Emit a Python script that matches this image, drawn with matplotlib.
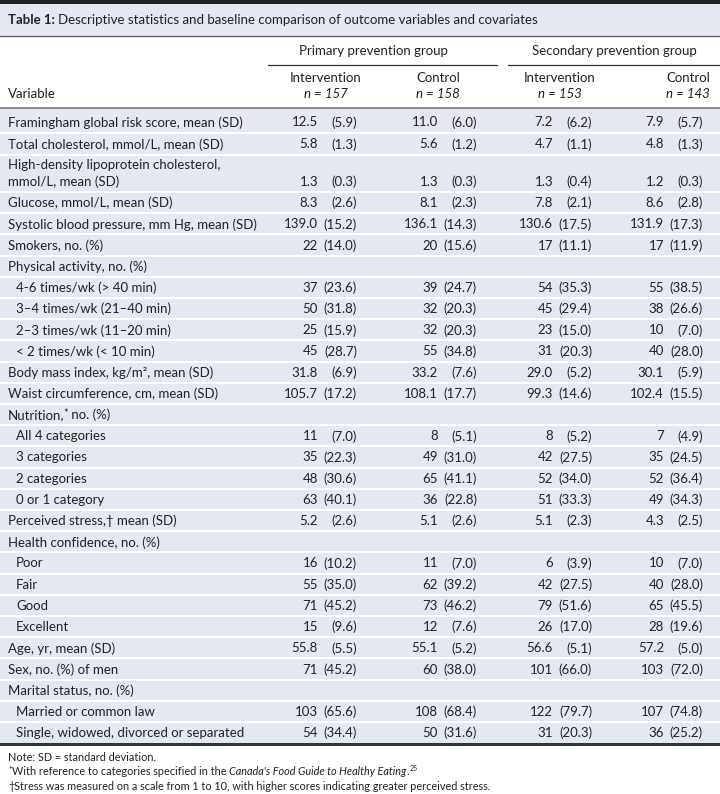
import matplotlib
matplotlib.use("Agg")
import matplotlib.pyplot as plt
from matplotlib.patches import Rectangle

plt.rcParams['font.family'] = ['Lato', 'DejaVu Sans']

title_bold = "Table 1:"
title_rest = "Descriptive statistics and baseline comparison of outcome variables and covariates"
group_labels = ["Primary prevention group", "Secondary prevention group"]
arm_labels = ["Intervention", "Control", "Intervention", "Control"]
arm_n = ["n = 157", "n = 158", "n = 153", "n = 143"]

labels = [
    "Framingham global risk score, mean (SD)",
    "Total cholesterol, mmol/L, mean (SD)",
    "High-density lipoprotein cholesterol,\nmmol/L, mean (SD)",
    "Glucose, mmol/L, mean (SD)",
    "Systolic blood pressure, mm Hg, mean (SD)",
    "Smokers, no. (%)",
    "Physical activity, no. (%)",
    "4-6 times/wk (> 40 min)",
    "3–4 times/wk (21–40 min)",
    "2–3 times/wk (11–20 min)",
    "< 2 times/wk (< 10 min)",
    "Body mass index, kg/m², mean (SD)",
    "Waist circumference, cm, mean (SD)",
    "Nutrition,* no. (%)",
    "All 4 categories",
    "3 categories",
    "2 categories",
    "0 or 1 category",
    "Perceived stress,† mean (SD)",
    "Health confidence, no. (%)",
    "Poor",
    "Fair",
    "Good",
    "Excellent",
    "Age, yr, mean (SD)",
    "Sex, no. (%) of men",
    "Marital status, no. (%)",
    "Married or common law",
    "Single, widowed, divorced or separated",
]
# m = mean (SD), n = count (%), h = heading only
kinds = ["m", "m", "m", "m", "m", "n", "h", "n", "n", "n", "n", "m", "m", "h",
         "n", "n", "n", "n", "m", "h", "n", "n", "n", "n", "m", "n", "h", "n", "n"]
indented = [False, False, False, False, False, False, False, True, True, True, True,
            False, False, False, True, True, True, True, False, False, True, True,
            True, True, False, False, False, True, True]

prim_int_val = [12.5, 5.8, 1.3, 8.3, 139.0, 22, None, 37, 50, 25, 45, 31.8, 105.7, None,
                11, 35, 48, 63, 5.2, None, 16, 55, 71, 15, 55.8, 71, None, 103, 54]
prim_int_sd = [5.9, 1.3, 0.3, 2.6, 15.2, 14.0, None, 23.6, 31.8, 15.9, 28.7, 6.9, 17.2, None,
               7.0, 22.3, 30.6, 40.1, 2.6, None, 10.2, 35.0, 45.2, 9.6, 5.5, 45.2, None, 65.6, 34.4]
prim_ctl_val = [11.0, 5.6, 1.3, 8.1, 136.1, 20, None, 39, 32, 32, 55, 33.2, 108.1, None,
                8, 49, 65, 36, 5.1, None, 11, 62, 73, 12, 55.1, 60, None, 108, 50]
prim_ctl_sd = [6.0, 1.2, 0.3, 2.3, 14.3, 15.6, None, 24.7, 20.3, 20.3, 34.8, 7.6, 17.7, None,
               5.1, 31.0, 41.1, 22.8, 2.6, None, 7.0, 39.2, 46.2, 7.6, 5.2, 38.0, None, 68.4, 31.6]
sec_int_val = [7.2, 4.7, 1.3, 7.8, 130.6, 17, None, 54, 45, 23, 31, 29.0, 99.3, None,
               8, 42, 52, 51, 5.1, None, 6, 42, 79, 26, 56.6, 101, None, 122, 31]
sec_int_sd = [6.2, 1.1, 0.4, 2.1, 17.5, 11.1, None, 35.3, 29.4, 15.0, 20.3, 5.2, 14.6, None,
              5.2, 27.5, 34.0, 33.3, 2.3, None, 3.9, 27.5, 51.6, 17.0, 5.1, 66.0, None, 79.7, 20.3]
sec_ctl_val = [7.9, 4.8, 1.2, 8.6, 131.9, 17, None, 55, 38, 10, 40, 30.1, 102.4, None,
               7, 35, 52, 49, 4.3, None, 10, 40, 65, 28, 57.2, 103, None, 107, 36]
sec_ctl_sd = [5.7, 1.3, 0.3, 2.8, 17.3, 11.9, None, 38.5, 26.6, 7.0, 28.0, 5.9, 15.5, None,
              4.9, 24.5, 36.4, 34.3, 2.5, None, 7.0, 28.0, 45.5, 19.6, 5.0, 72.0, None, 74.8, 25.2]

footnotes = [
    "Note: SD = standard deviation.",
    "With reference to categories specified in the",
    "Stress was measured on a scale from 1 to 10, with higher scores indicating greater perceived stress.",
]

# ---------------- layout ----------------
W, H = 720, 794
fig = plt.figure(figsize=(W / 100, H / 100), dpi=100)
ax = fig.add_axes([0, 0, 1, 1])
ax.set_xlim(0, W)
ax.set_ylim(H, 0)
ax.axis("off")
fig.canvas.draw()
renderer = fig.canvas.get_renderer()

TXT = "#222222"
BG = "#e4e8f1"
FS = 9.5

def rect(x0, y0, x1, y1, color):
    ax.add_patch(Rectangle((x0, y0), x1 - x0, y1 - y0, facecolor=color, edgecolor="none", lw=0))

def runs(x, y, pieces, fs, va="center"):
    for s, kw in pieces:
        kw = dict(kw)
        dy = kw.pop("dy", 0)
        size = kw.pop("size", fs)
        extra = kw.pop("gap", 0)
        t = ax.text(x, y + dy, s, fontsize=size, color=TXT, va=va, ha="left", **kw)
        x += t.get_window_extent(renderer).width + extra

# title band
rect(0, 0, W, 4, "#222222")
rect(0, 4, W, 36, BG)
ax.plot([0, W], [36, 36], color="#5a5a5a", lw=0.9)
runs(8, 20, [(title_bold, dict(fontweight="bold", gap=3.5)), (title_rest, dict())], FS)

# header
col_center = [326, 438, 560, 688]
grp_center = [373, 614]
grp_lines = [(268, 497), (508, W)]
for g in range(2):
    ax.text(grp_center[g], 51, group_labels[g], fontsize=FS, color=TXT, ha="center", va="center")
    ax.plot(grp_lines[g], [64.5, 64.5], color="#333333", lw=0.9)
for c in range(4):
    ax.text(col_center[c], 78, arm_labels[c], fontsize=FS, color=TXT, ha="center", va="center")
    ax.text(col_center[c], 94.5, arm_n[c], fontsize=FS, color=TXT, ha="center", va="center",
            fontstyle="italic")
ax.text(8, 94.5, "Variable", fontsize=FS, color=TXT, ha="left", va="center")
rect(0, 106.5, W, 109, "#8e8e8e")

# body rows
heights = [24, 22, 37] + [21.2] * (len(labels) - 3)
y = 109
bounds = []
for h in heights:
    bounds.append((y, y + h))
    y += h
body_bottom = y
rect(0, 109, W, body_bottom, BG)
for (y0, y1) in bounds[:-1]:
    rect(0, y1 - 1, W, y1 + 1, "white")
rect(0, body_bottom, W, body_bottom + 3, "#333333")

sd_right = [357, 477, 592, 703]
gap = 39
series = [(prim_int_val, prim_int_sd), (prim_ctl_val, prim_ctl_sd),
          (sec_int_val, sec_int_sd), (sec_ctl_val, sec_ctl_sd)]

for i, lab in enumerate(labels):
    y0, y1 = bounds[i]
    yc = (y0 + y1) / 2 + (1.5 if i == 0 else 0.5)
    x = 16 if indented[i] else 8
    if "\n" in lab:
        l1, l2 = lab.split("\n")
        ax.text(x, 165, l1, fontsize=FS, color=TXT, ha="left", va="center")
        ax.text(x, 182, l2, fontsize=FS, color=TXT, ha="left", va="center")
        yv = 182
    elif lab.startswith("Nutrition,*"):
        runs(x, yc, [("Nutrition,", dict(gap=-1.0)), ("*", dict(size=FS * 0.8, dy=-2, gap=0.5)),
                     (" no. (%)", dict())], FS)
        yv = yc
    else:
        ax.text(x, yc, lab, fontsize=FS, color=TXT, ha="left", va="center")
        yv = yc
    if kinds[i] == "h":
        continue
    for c, (vals, sds) in enumerate(series):
        v, s = vals[i], sds[i]
        vs = f"{v:.1f}" if kinds[i] == "m" else f"{int(v)}"
        ax.text(sd_right[c] - gap, yv, vs, fontsize=FS, color=TXT, ha="right", va="center")
        ax.text(sd_right[c], yv, f"({s:.1f})", fontsize=FS, color=TXT, ha="right", va="center")

# footnotes
FFS = 7.8
fy = body_bottom + 14
ax.text(8, fy, footnotes[0], fontsize=FFS, color=TXT, ha="left", va="center")
runs(8, fy + 14.5, [("*", dict(size=FFS * 0.8, dy=-1.5)), (footnotes[1], dict(gap=3)),
                    ("Canada's Food Guide to Healthy Eating", dict(fontstyle="italic")),
                    (".", dict(gap=1)), ("25", dict(size=FFS * 0.65, dy=-3))], FFS)
runs(8, fy + 29, [("†", dict()), (footnotes[2], dict())], FFS)

fig.savefig("out.png", dpi=100)
